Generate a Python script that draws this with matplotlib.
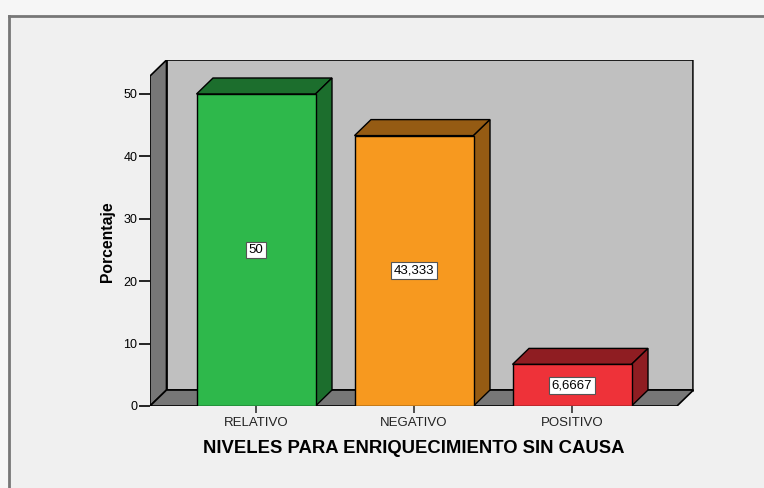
import numpy as np
import matplotlib.pyplot as plt
from matplotlib.patches import Polygon, Rectangle
from matplotlib.lines import Line2D

plt.rcParams['font.family'] = ['Liberation Sans', 'DejaVu Sans']

# Data
categories = ['RELATIVO', 'NEGATIVO', 'POSITIVO']
values = [50, 43.333, 6.6667]
value_labels = ['50', '43,333', '6,6667']
yticks = [0, 10, 20, 30, 40, 50]

front_colors = ['#2eb84b', '#f7991f', '#ee3239']
shade_colors = ['#1c6e2d', '#955b13', '#8f1d22']

# Figure in pixels
W, H = 764, 488
fig = plt.figure(figsize=(W / 100, H / 100), dpi=100, facecolor='#f6f6f6')

# inner panel with a grey line at top and left
fig.add_artist(Rectangle((9 / W, 0), 1, (H - 16) / H, transform=fig.transFigure,
                         facecolor='#f0f0f0', edgecolor='none', zorder=0))
fig.add_artist(Line2D([9 / W, 1], [(H - 16) / H] * 2, transform=fig.transFigure,
                      color='#777777', lw=2))
fig.add_artist(Line2D([9 / W] * 2, [0, (H - 16) / H], transform=fig.transFigure,
                      color='#777777', lw=2))

# scale: pixels per category step and per percent
px_cat, px_pct = 158.0, 6.24
left_px, right_px, bottom_px, top_px = 150, 694, 406, 60
ax = fig.add_axes([left_px / W, (H - bottom_px) / H,
                   (right_px - left_px) / W, (bottom_px - top_px) / H])
ax.set_facecolor('none')

x0 = -(256 - 150) / px_cat          # front left edge of plot
x1 = (677 - 256) / px_cat           # front right edge of floor
dx = 16.5 / px_cat                  # depth offset in x
dy = 16.0 / px_pct                  # depth offset in y
ytop = (406 - 76) / px_pct          # top of the wall (front)
ax.set_xlim(x0, x0 + (right_px - left_px) / px_cat)
ax.set_ylim(0, (bottom_px - top_px) / px_pct)

# back wall, left wall, floor
ax.add_patch(Rectangle((x0 + dx, dy), x1 - x0, ytop, facecolor='#c0c0c0',
                       edgecolor='black', lw=1.2, zorder=1))
ax.plot([x1 + dx, x1 + dx], [dy, ytop + dy], color='#555555', lw=2, zorder=1)
ax.add_patch(Polygon([(x0, 0), (x0 + dx, dy), (x0 + dx, ytop + dy), (x0, ytop)],
                     facecolor='#777777', edgecolor='black', lw=1.2, zorder=2))
ax.add_patch(Polygon([(x0, 0), (x1, 0), (x1 + dx, dy), (x0 + dx, dy)],
                     facecolor='#777777', edgecolor='black', lw=1.2, zorder=2))

# bars with 3D top and side faces
bw = 119 / px_cat
xs = np.arange(len(categories))
for i, (x, v) in enumerate(zip(xs, values)):
    l, r = x - bw / 2, x + bw / 2
    ax.add_patch(Polygon([(l, v), (l + dx, v + dy), (r + dx, v + dy), (r, v)],
                         facecolor=shade_colors[i], edgecolor='black', lw=1, zorder=3))
    ax.add_patch(Polygon([(r, 0), (r + dx, dy), (r + dx, v + dy), (r, v)],
                         facecolor=shade_colors[i], edgecolor='black', lw=1, zorder=3))
ax.bar(xs, values, width=bw, color=front_colors, edgecolor='black', lw=1, zorder=4)

for x, v, t in zip(xs, values, value_labels):
    ax.text(x, v / 2, t, ha='center', va='center', fontsize=9.5, zorder=5,
            bbox=dict(boxstyle='square,pad=0.18', facecolor='white',
                      edgecolor='#555555', lw=0.8))

# axes decoration
for s in ax.spines.values():
    s.set_visible(False)
ax.set_yticks(yticks)
ax.set_yticklabels([str(t) for t in yticks], fontsize=9)
ax.set_xticks(xs)
ax.set_xticklabels(categories, fontsize=9.5, color='#222222')
ax.tick_params(axis='y', length=8, width=1.2, pad=1, color='black')
ax.tick_params(axis='x', length=5, width=1.2, pad=3, color='#333333')
ax.set_xlabel('NIVELES PARA ENRIQUECIMIENTO SIN CAUSA', fontsize=13.3,
              fontweight='bold')
ax.xaxis.set_label_coords((414 - left_px) / (right_px - left_px), -0.097)
ax.set_ylabel('Porcentaje', fontsize=11.3, fontweight='bold')
ax.yaxis.set_label_coords(-0.065, (406 - 242) / (bottom_px - top_px))

fig.savefig('out.png', dpi=100, facecolor=fig.get_facecolor())
